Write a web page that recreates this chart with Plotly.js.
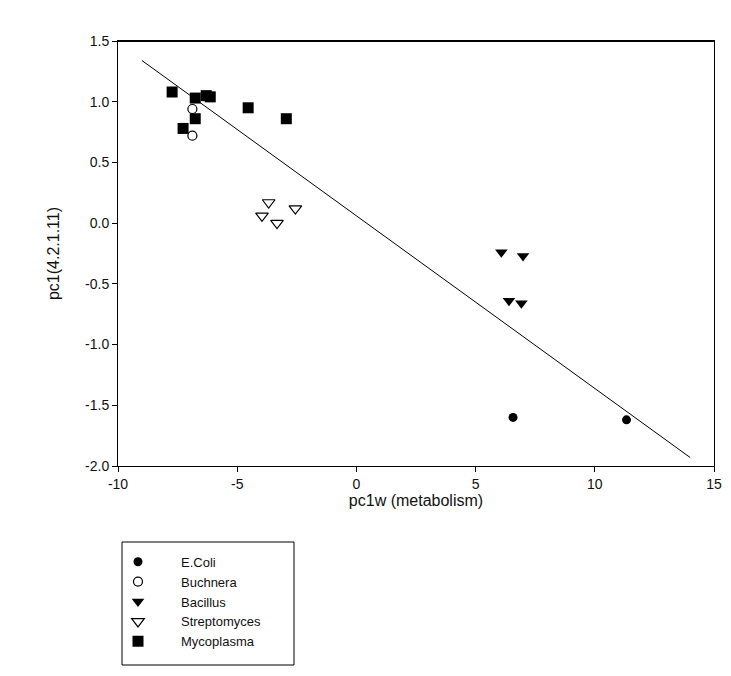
<!DOCTYPE html>
<html>
<head>
<meta charset="utf-8">
<script src="https://cdn.plot.ly/plotly-3.0.1.min.js"></script>
<style>html,body{margin:0;padding:0;background:#fff;}#chart{width:731px;height:676px;}</style>
</head>
<body>
<div id="chart"></div>
<script>
// Data
const ecoliX = [6.57, 11.33];
const ecoliY = [-1.60, -1.62];

const buchneraX = [-6.88, -6.88];
const buchneraY = [0.94, 0.72];

const bacillusX = [6.08, 6.99, 6.40, 6.92];
const bacillusY = [-0.24, -0.27, -0.64, -0.66];

const streptoX = [-3.68, -3.96, -3.33, -2.56];
const streptoY = [0.17, 0.06, 0.00, 0.12];

const mycoX = [-7.73, -6.76, -6.30, -6.13, -4.54, -2.94, -6.76, -7.27];
const mycoY = [1.08, 1.03, 1.05, 1.04, 0.95, 0.86, 0.86, 0.78];

const fitX = [-9.0, 14.0];
const fitY = [1.34, -1.93];

const xTicks = [-10, -5, 0, 5, 10, 15];
const yTicks = [-2.0, -1.5, -1.0, -0.5, 0.0, 0.5, 1.0, 1.5];
const yTickText = ['-2.0', '-1.5', '-1.0', '-0.5', '0.0', '0.5', '1.0', '1.5'];

const font = 'Liberation Sans, Arial, sans-serif';

const traces = [
  {x: fitX, y: fitY, mode: 'lines', line: {color: '#000', width: 1}, showlegend: false, hoverinfo: 'skip'},
  {x: ecoliX, y: ecoliY, mode: 'markers', name: 'E.Coli',
   marker: {symbol: 'circle', size: 9, color: '#000', line: {width: 0}}},
  {x: buchneraX, y: buchneraY, mode: 'markers', name: 'Buchnera',
   marker: {symbol: 'circle-open', size: 9, color: '#000', line: {width: 1.2, color: '#000'}}},
  {x: bacillusX, y: bacillusY, mode: 'markers', name: 'Bacillus',
   marker: {symbol: 'triangle-down', size: 11, color: '#000', line: {width: 0}}},
  {x: streptoX, y: streptoY, mode: 'markers', name: 'Streptomyces',
   marker: {symbol: 'triangle-down-open', size: 11, color: '#000', line: {width: 1.2, color: '#000'}}},
  {x: mycoX, y: mycoY, mode: 'markers', name: 'Mycoplasma',
   marker: {symbol: 'square', size: 11, color: '#000', line: {width: 0}}}
];

const layout = {
  width: 731, height: 676,
  margin: {l: 118, r: 17, t: 41, b: 210},
  paper_bgcolor: '#fff', plot_bgcolor: '#fff',
  font: {family: font, size: 13, color: '#111'},
  showlegend: true,
  xaxis: {
    range: [-10, 15], tickvals: xTicks, ticktext: xTicks.map(String),
    showgrid: false, zeroline: false, showline: true, linecolor: '#000', linewidth: 1, mirror: true,
    ticks: 'outside', ticklen: 5, tickcolor: '#000', tickwidth: 1,
    tickfont: {family: font, size: 14, color: '#111'},
    title: {text: 'pc1w (metabolism)', font: {family: font, size: 16, color: '#111'}, standoff: 0}
  },
  yaxis: {
    range: [-2.0, 1.5], tickvals: yTicks, ticktext: yTickText,
    showgrid: false, zeroline: false, showline: true, linecolor: '#000', linewidth: 1, mirror: true,
    ticks: 'outside', ticklen: 5, tickcolor: '#000', tickwidth: 1,
    tickfont: {family: font, size: 14, color: '#111'},
    title: {text: 'pc1(4.2.1.11)', font: {family: font, size: 16, color: '#111'}, standoff: 21}
  },
  legend: {
    x: -0.0386, xanchor: 'left', y: -0.19, yanchor: 'top',
    bgcolor: 'rgba(0,0,0,0)', borderwidth: 0,
    itemwidth: 76, tracegroupgap: 0,
    font: {family: font, size: 13, color: '#111'}
  },
  shapes: [
    {type: 'line', xref: 'paper', yref: 'paper', x0: 0, x1: 1, y0: 1, y1: 1, line: {color: '#000', width: 2}},
    {type: 'rect', xref: 'paper', yref: 'paper',
     x0: (122 - 118) / 596, x1: (294 - 118) / 596,
     y0: (466 - 542) / 425, y1: (466 - 665) / 425,
     line: {color: '#000', width: 1}, fillcolor: 'rgba(0,0,0,0)'}
  ]
};

Plotly.newPlot('chart', traces, layout, {displayModeBar: false, staticPlot: true});
</script>
</body>
</html>
